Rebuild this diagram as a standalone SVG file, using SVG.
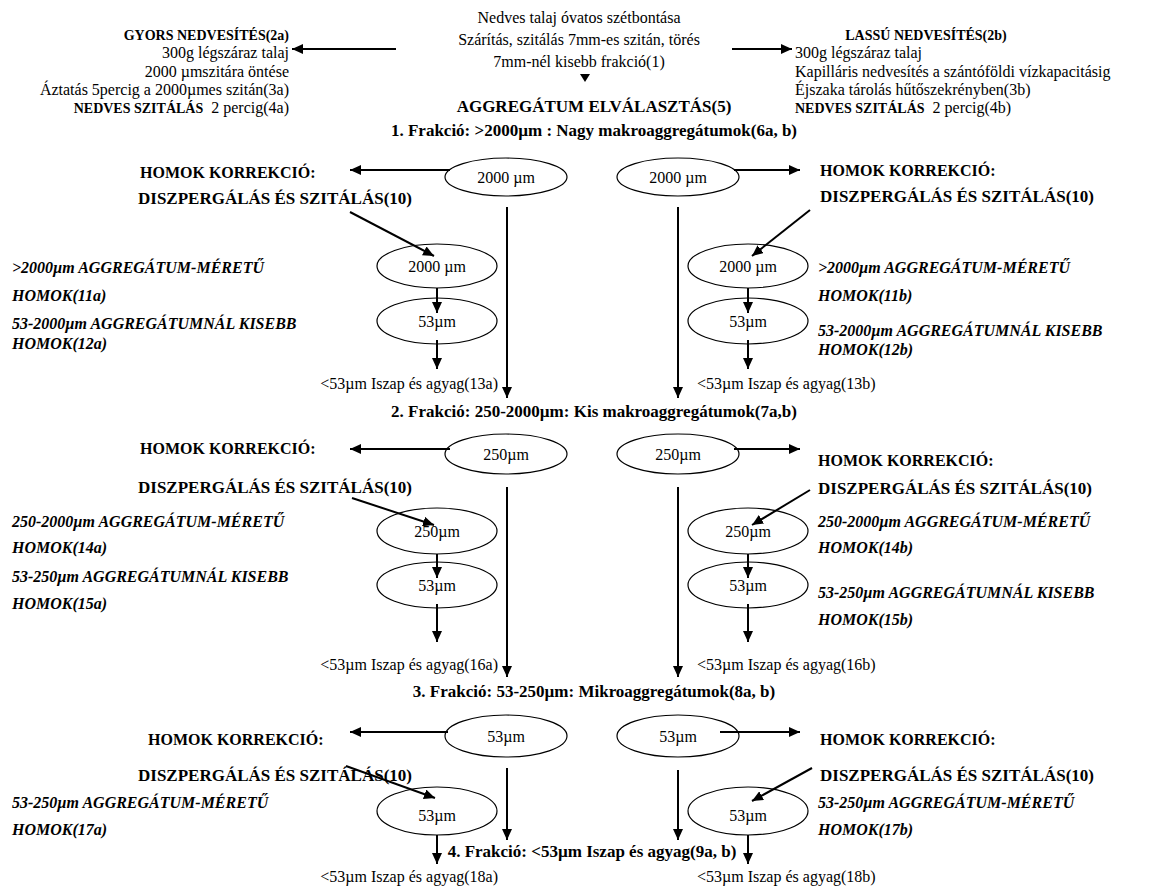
<svg xmlns="http://www.w3.org/2000/svg" width="1158" height="889" viewBox="0 0 1158 889">
<defs>
<marker id="ah" markerUnits="userSpaceOnUse" markerWidth="11" markerHeight="10" refX="11" refY="5" orient="auto"><path d="M0,0 L11,5 L0,10 z" fill="#000"/></marker>
</defs>
<style>
text{font-family:"Liberation Serif","Times New Roman",serif;fill:#000}
.r{font-size:16px}
.t{font-size:14px;font-weight:bold}
.b{font-size:17px;font-weight:bold}
.h{font-size:16px;font-weight:bold}
.i{font-size:16px;font-weight:bold;font-style:italic}
.m{text-anchor:middle}
.e{text-anchor:end}
ellipse{fill:none;stroke:#000;stroke-width:1.2}
.c line{stroke:#000;stroke-width:2;marker-end:url(#ah)}
</style>
<rect width="1158" height="889" fill="#fff"/>

<g id="start">
<text class="r m" x="579" y="23">Nedves talaj óvatos szétbontása</text>
<text class="r m" x="579" y="45">Szárítás, szitálás 7mm-es szitán, törés</text>
<text class="r m" x="579" y="67">7mm-nél kisebb frakció(1)</text>
<path d="M580,74 L590,74 L585,82 z" fill="#000"/>
</g>

<g id="gyors">
<text class="t e" x="289" y="40">GYORS NEDVESÍTÉS(2a)</text>
<text class="r e" x="289" y="58">300g légszáraz talaj</text>
<text class="r e" x="289" y="77">2000 µmszitára öntése</text>
<text class="r e" x="289" y="95">Áztatás 5percig a 2000µmes szitán(3a)</text>
<text class="r e" x="289" y="113" xml:space="preserve"><tspan font-weight="bold" font-size="14">NEDVES SZITÁLÁS</tspan>  2 percig(4a)</text>
</g>

<g id="lassu">
<text class="t m" x="926" y="40">LASSÚ NEDVESÍTÉS(2b)</text>
<text class="r" x="795" y="58">300g légszáraz talaj</text>
<text class="r" x="795" y="77">Kapilláris nedvesítés a szántóföldi vízkapacitásig</text>
<text class="r" x="795" y="95">Éjszaka tárolás hűtőszekrényben(3b)</text>
<text class="r" x="795" y="113" xml:space="preserve"><tspan font-weight="bold" font-size="14">NEDVES SZITÁLÁS</tspan>  2 percig(4b)</text>
</g>

<g id="elvalasztas">
<text class="b m" x="594" y="112">AGGREGÁTUM ELVÁLASZTÁS(5)</text>
</g>

<!-- Section 1 -->
<g id="frakcio1"><text class="b m" x="594" y="136">1. Frakció: &gt;2000µm : Nagy makroaggregátumok(6a, b)</text></g>
<g id="e1a"><ellipse cx="506" cy="177" rx="61" ry="19"/><text class="r m" x="506" y="183">2000 µm</text></g>
<g id="e1b"><ellipse cx="678" cy="177" rx="61" ry="19"/><text class="r m" x="678" y="183">2000 µm</text></g>
<g id="hk1a"><text class="h" x="140" y="178">HOMOK KORREKCIÓ:</text><text class="b" x="138" y="204">DISZPERGÁLÁS ÉS SZITÁLÁS(10)</text></g>
<g id="hk1b"><text class="h" x="820" y="176">HOMOK KORREKCIÓ:</text><text class="b" x="820" y="202">DISZPERGÁLÁS ÉS SZITÁLÁS(10)</text></g>
<g id="s1a"><ellipse cx="437" cy="266" rx="60" ry="22"/><text class="r m" x="437" y="272">2000 µm</text></g>
<g id="s2a"><ellipse cx="437" cy="321" rx="60" ry="23"/><text class="r m" x="437" y="327">53µm</text></g>
<g id="s1b"><ellipse cx="748" cy="266" rx="60" ry="22"/><text class="r m" x="748" y="272">2000 µm</text></g>
<g id="s2b"><ellipse cx="748" cy="321" rx="60" ry="23"/><text class="r m" x="748" y="327">53µm</text></g>
<g id="l11a"><text class="i" x="12" y="273">&gt;2000µm AGGREGÁTUM-MÉRETŰ</text><text class="i" x="12" y="301">HOMOK(11a)</text></g>
<g id="l12a"><text class="i" x="12" y="329">53-2000µm AGGREGÁTUMNÁL KISEBB</text><text class="i" x="12" y="349">HOMOK(12a)</text></g>
<g id="l11b"><text class="i" x="818" y="273">&gt;2000µm AGGREGÁTUM-MÉRETŰ</text><text class="i" x="818" y="301">HOMOK(11b)</text></g>
<g id="l12b"><text class="i" x="818" y="336">53-2000µm AGGREGÁTUMNÁL KISEBB</text><text class="i" x="818" y="355">HOMOK(12b)</text></g>
<g id="i13a"><text class="r e" x="498" y="389">&lt;53µm Iszap és agyag(13a)</text></g>
<g id="i13b"><text class="r" x="697" y="389">&lt;53µm Iszap és agyag(13b)</text></g>

<!-- Section 2 -->
<g id="frakcio2"><text class="b m" x="594" y="417">2. Frakció: 250-2000µm: Kis makroaggregátumok(7a,b)</text></g>
<g id="e2a"><ellipse cx="506" cy="454" rx="61" ry="20"/><text class="r m" x="506" y="460">250µm</text></g>
<g id="e2b"><ellipse cx="678" cy="454" rx="61" ry="20"/><text class="r m" x="678" y="460">250µm</text></g>
<g id="hk2a"><text class="h" x="140" y="454">HOMOK KORREKCIÓ:</text><text class="b" x="138" y="493">DISZPERGÁLÁS ÉS SZITÁLÁS(10)</text></g>
<g id="hk2b"><text class="h" x="818" y="466">HOMOK KORREKCIÓ:</text><text class="b" x="818" y="494">DISZPERGÁLÁS ÉS SZITÁLÁS(10)</text></g>
<g id="s3a"><ellipse cx="437" cy="531" rx="60" ry="23"/><text class="r m" x="437" y="537">250µm</text></g>
<g id="s4a"><ellipse cx="437" cy="585" rx="60" ry="23"/><text class="r m" x="437" y="591">53µm</text></g>
<g id="s3b"><ellipse cx="748" cy="531" rx="60" ry="23"/><text class="r m" x="748" y="537">250µm</text></g>
<g id="s4b"><ellipse cx="748" cy="585" rx="60" ry="23"/><text class="r m" x="748" y="591">53µm</text></g>
<g id="l14a"><text class="i" x="12" y="527">250-2000µm AGGREGÁTUM-MÉRETŰ</text><text class="i" x="12" y="553">HOMOK(14a)</text></g>
<g id="l15a"><text class="i" x="12" y="582">53-250µm AGGREGÁTUMNÁL KISEBB</text><text class="i" x="12" y="609">HOMOK(15a)</text></g>
<g id="l14b"><text class="i" x="818" y="527">250-2000µm AGGREGÁTUM-MÉRETŰ</text><text class="i" x="818" y="553">HOMOK(14b)</text></g>
<g id="l15b"><text class="i" x="818" y="598">53-250µm AGGREGÁTUMNÁL KISEBB</text><text class="i" x="818" y="625">HOMOK(15b)</text></g>
<g id="i16a"><text class="r e" x="498" y="670">&lt;53µm Iszap és agyag(16a)</text></g>
<g id="i16b"><text class="r" x="697" y="670">&lt;53µm Iszap és agyag(16b)</text></g>

<!-- Section 3 -->
<g id="frakcio3"><text class="b m" x="594" y="697">3. Frakció: 53-250µm: Mikroaggregátumok(8a, b)</text></g>
<g id="e3a"><ellipse cx="506" cy="736" rx="61" ry="21"/><text class="r m" x="506" y="742">53µm</text></g>
<g id="e3b"><ellipse cx="678" cy="736" rx="61" ry="21"/><text class="r m" x="678" y="742">53µm</text></g>
<g id="hk3a"><text class="h" x="148" y="745">HOMOK KORREKCIÓ:</text><text class="b" x="138" y="781">DISZPERGÁLÁS ÉS SZITÁLÁS(10)</text></g>
<g id="hk3b"><text class="h" x="820" y="745">HOMOK KORREKCIÓ:</text><text class="b" x="820" y="781">DISZPERGÁLÁS ÉS SZITÁLÁS(10)</text></g>
<g id="s5a"><ellipse cx="437" cy="811" rx="60" ry="24"/><text class="r m" x="437" y="821">53µm</text></g>
<g id="s5b"><ellipse cx="748" cy="811" rx="60" ry="24"/><text class="r m" x="748" y="821">53µm</text></g>
<g id="l17a"><text class="i" x="12" y="808">53-250µm AGGREGÁTUM-MÉRETŰ</text><text class="i" x="12" y="835">HOMOK(17a)</text></g>
<g id="l17b"><text class="i" x="818" y="808">53-250µm AGGREGÁTUM-MÉRETŰ</text><text class="i" x="818" y="835">HOMOK(17b)</text></g>
<g id="frakcio4"><text class="b m" x="592" y="857">4. Frakció: &lt;53µm Iszap és agyag(9a, b)</text></g>
<g id="i18a"><text class="r e" x="498" y="882">&lt;53µm Iszap és agyag(18a)</text></g>
<g id="i18b"><text class="r" x="697" y="882">&lt;53µm Iszap és agyag(18b)</text></g>

<g id="connectors" class="c">
<line x1="396" y1="49" x2="292" y2="49"/>
<line x1="732" y1="49" x2="792" y2="49"/>
<!-- section 1 -->
<line x1="450" y1="170" x2="350" y2="170"/>
<line x1="734" y1="170" x2="800" y2="170"/>
<line x1="350" y1="212" x2="434" y2="256"/>
<line x1="810" y1="210" x2="752" y2="256"/>
<line x1="437" y1="288" x2="437" y2="313"/>
<line x1="437" y1="340" x2="437" y2="369"/>
<line x1="748" y1="288" x2="748" y2="313"/>
<line x1="748" y1="340" x2="748" y2="369"/>
<line x1="507" y1="207" x2="507" y2="398"/>
<line x1="678" y1="207" x2="678" y2="398"/>
<!-- section 2 -->
<line x1="450" y1="449" x2="350" y2="449"/>
<line x1="734" y1="449" x2="800" y2="449"/>
<line x1="352" y1="498" x2="434" y2="525"/>
<line x1="810" y1="490" x2="752" y2="525"/>
<line x1="437" y1="554" x2="437" y2="578"/>
<line x1="437" y1="604" x2="437" y2="642"/>
<line x1="748" y1="554" x2="748" y2="578"/>
<line x1="748" y1="604" x2="748" y2="642"/>
<line x1="507" y1="487" x2="507" y2="677"/>
<line x1="678" y1="487" x2="678" y2="677"/>
<!-- section 3 -->
<line x1="448" y1="732" x2="350" y2="732"/>
<line x1="720" y1="732" x2="800" y2="732"/>
<line x1="346" y1="766" x2="435" y2="798"/>
<line x1="812" y1="768" x2="752" y2="801"/>
<line x1="437" y1="835" x2="437" y2="864"/>
<line x1="748" y1="835" x2="748" y2="864"/>
<line x1="507" y1="768" x2="507" y2="840"/>
<line x1="678" y1="770" x2="678" y2="840"/>
</g>
</svg>
